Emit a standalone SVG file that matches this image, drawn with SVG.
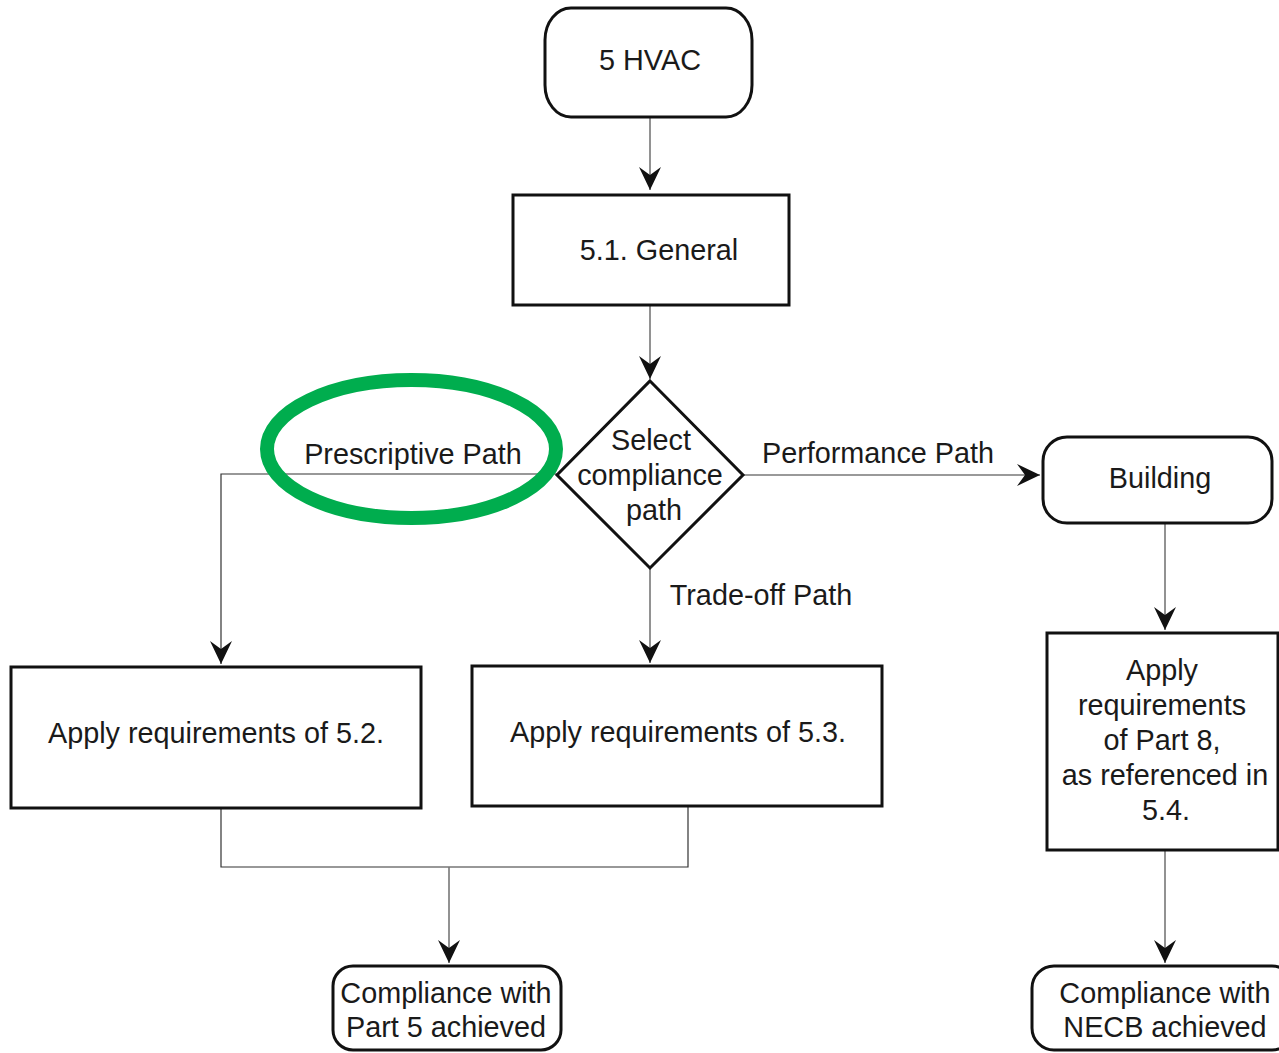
<svg xmlns="http://www.w3.org/2000/svg" width="1279" height="1053" viewBox="0 0 1279 1053">
  <defs>
    <style>
      .box { fill: #fff; stroke: #111; stroke-width: 3; }
      .lbl { font-family: "Liberation Sans", Arial, sans-serif; font-size: 28.8px; fill: #1a1a1a; text-anchor: middle; }
      .edge { fill: none; stroke: #777; stroke-width: 1.6; }
      .thin { fill: none; stroke: #333; stroke-width: 1.2; }
      .mark { fill: none; stroke: #00ad4e; stroke-width: 14; }
    </style>
    <marker id="arrow" markerUnits="userSpaceOnUse" markerWidth="26" markerHeight="26" viewBox="-24 -13 26 26" refX="0" refY="0" orient="auto">
      <path d="M0,0 L-23,-11 L-15,0 L-23,11 Z" fill="#111"/>
    </marker>
  </defs>
  <rect width="1279" height="1053" fill="#fff"/>

  <!-- connectors -->
  <g id="connectors">
    <line class="edge" x1="650" y1="118" x2="650" y2="190" marker-end="url(#arrow)"/>
    <line class="edge" x1="650" y1="306" x2="650" y2="379" marker-end="url(#arrow)"/>
    <polyline class="thin" points="557,474 221,474 221,664" marker-end="url(#arrow)"/>
    <line class="edge" x1="743" y1="475" x2="1040" y2="475" marker-end="url(#arrow)"/>
    <line class="edge" x1="650" y1="568" x2="650" y2="663" marker-end="url(#arrow)"/>
    <line class="edge" x1="1165" y1="524" x2="1165" y2="630" marker-end="url(#arrow)"/>
    <line class="edge" x1="1165" y1="851" x2="1165" y2="963" marker-end="url(#arrow)"/>
    <polyline class="thin" points="221,809 221,867 688,867 688,807"/>
    <line class="edge" x1="449" y1="867" x2="449" y2="963" marker-end="url(#arrow)"/>
    <text class="lbl" x="413" y="464">Prescriptive Path</text>
    <text class="lbl" x="878" y="463">Performance Path</text>
    <text class="lbl" x="761" y="605">Trade-off Path</text>
  </g>

  <g id="start">
    <rect class="box" x="545" y="8" width="207" height="109" rx="26" ry="32"/>
    <text class="lbl" x="650" y="70">5 HVAC</text>
  </g>

  <g id="general">
    <rect class="box" x="513" y="195" width="276" height="110"/>
    <text class="lbl" x="659" y="260">5.1. General</text>
  </g>

  <g id="select">
    <polygon class="box" points="650,381 743,475 650,568 557,475"/>
    <text class="lbl" x="651" y="450">Select</text>
    <text class="lbl" x="650" y="485">compliance</text>
    <text class="lbl" x="654" y="520">path</text>
  </g>

  <g id="building">
    <rect class="box" x="1043" y="437" width="229" height="86" rx="24" ry="24"/>
    <text class="lbl" x="1160" y="488">Building</text>
  </g>

  <g id="req52">
    <rect class="box" x="11" y="667" width="410" height="141"/>
    <text class="lbl" x="216" y="743">Apply requirements of 5.2.</text>
  </g>

  <g id="req53">
    <rect class="box" x="472" y="666" width="410" height="140"/>
    <text class="lbl" x="678" y="742">Apply requirements of 5.3.</text>
  </g>

  <g id="part8">
    <rect class="box" x="1047" y="633" width="231" height="217"/>
    <text class="lbl" x="1162" y="680">Apply</text>
    <text class="lbl" x="1162" y="715">requirements</text>
    <text class="lbl" x="1162" y="750">of Part 8,</text>
    <text class="lbl" x="1165" y="785">as referenced in</text>
    <text class="lbl" x="1166" y="820">5.4.</text>
  </g>

  <g id="done5">
    <rect class="box" x="333" y="966" width="228" height="84" rx="20" ry="20"/>
    <text class="lbl" x="446" y="1003">Compliance with</text>
    <text class="lbl" x="446" y="1037">Part 5 achieved</text>
  </g>

  <g id="doneNECB">
    <rect class="box" x="1032" y="966" width="262" height="84" rx="22" ry="22"/>
    <text class="lbl" x="1165" y="1003">Compliance with</text>
    <text class="lbl" x="1165" y="1037">NECB achieved</text>
  </g>

  <!-- highlight ring around the prescriptive route label -->
  <ellipse class="mark" cx="411.5" cy="449" rx="144.5" ry="69"/>
</svg>
